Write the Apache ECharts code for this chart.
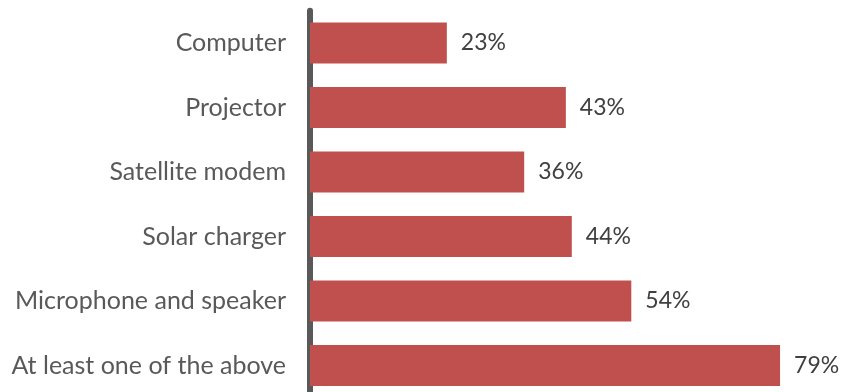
<!DOCTYPE html>
<html>
<head>
<meta charset="utf-8">
<script src="https://cdn.jsdelivr.net/npm/echarts@6/dist/echarts.min.js"></script>
<style>
  html, body { margin: 0; padding: 0; background: #ffffff; }
  #chart { width: 843px; height: 392px; }
</style>
</head>
<body>
<div id="chart"></div>
<script>
// Equipment categories, listed top to bottom
const categories = [
  'Computer',
  'Projector',
  'Satellite modem',
  'Solar charger',
  'Microphone and speaker',
  'At least one of the above'
];
// Share of respondents (%)
const shares = [23, 43, 36, 44, 54, 79];

const chart = echarts.init(document.getElementById('chart'), null, { renderer: 'canvas' });

chart.setOption({
  animation: false,
  backgroundColor: '#ffffff',
  grid: {
    left: 310, top: 10.75, width: 595, height: 387,
    containLabel: false,
    outerBoundsMode: 'none'
  },
  xAxis: {
    type: 'value',
    min: 0,
    max: 100,
    show: false
  },
  yAxis: {
    type: 'category',
    inverse: true,
    data: categories,
    axisLine: { show: true, lineStyle: { color: '#595959', width: 6 } },
    axisTick: { show: false },
    splitLine: { show: false },
    axisLabel: {
      color: '#595959',
      fontFamily: 'Lato',
      fontSize: 25,
      margin: 24
    }
  },
  series: [{
    type: 'bar',
    data: shares,
    barWidth: 41,
    itemStyle: { color: '#c0504d' },
    z: 1,
    label: {
      show: true,
      position: 'right',
      distance: 14,
      formatter: '{c}%',
      color: '#404040',
      fontFamily: 'Lato',
      fontSize: 23
    }
  }]
});
</script>
</body>
</html>
